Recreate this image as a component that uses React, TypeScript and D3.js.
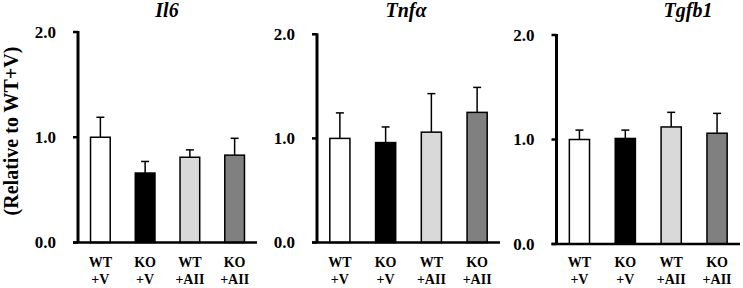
import React from "react";
import * as d3 from "d3";

const groupTop = ["WT", "KO", "WT", "KO"];
const groupBottom = ["+V", "+V", "+AII", "+AII"];
const barColors = ["#ffffff", "#000000", "#d9d9d9", "#808080"];

const genes = ["Il6", "Tnfα", "Tgfb1"];
const il6Means = [1.0, 0.66, 0.81, 0.83];
const il6Errors = [0.19, 0.11, 0.07, 0.16];
const tnfaMeans = [1.0, 0.96, 1.06, 1.25];
const tnfaErrors = [0.245, 0.15, 0.37, 0.24];
const tgfb1Means = [1.0, 1.01, 1.12, 1.06];
const tgfb1Errors = [0.09, 0.08, 0.14, 0.19];
const yTicks = [0, 1, 2];
const yLabel = "(Relative to WT+V)";

const seriesMeans = [il6Means, tnfaMeans, tgfb1Means];
const seriesErrors = [il6Errors, tnfaErrors, tgfb1Errors];

// layout only
const panels = [
  { x0: 78, x1: 257, yTop: 32, yBot: 242.5, titleX: 167 },
  { x0: 317, x1: 500, yTop: 34.3, yBot: 242.5, titleX: 406 },
  { x0: 556.5, x1: 740, yTop: 35, yBot: 244, titleX: 688 },
];

const FONT = "Liberation Serif, Times New Roman, serif";

export default function App() {
  return (
    <svg
      width={743}
      height={288}
      style={{ position: "absolute", left: 0, top: 0, background: "#fff", fontFamily: FONT }}
    >
      <rect width={743} height={288} fill="#fff" />
      <text
        transform={`translate(18,131) rotate(-90)`}
        textAnchor="middle"
        fontSize={20}
        fontWeight="bold"
        fill="#000"
        style={{ fontFamily: FONT }}
      >
        {yLabel}
      </text>
      {panels.map((p, pi) => {
        const x = d3
          .scaleBand<number>()
          .domain(d3.range(groupTop.length))
          .range([p.x0, p.x1])
          .paddingInner(0.56)
          .paddingOuter(0.28);
        const y = d3.scaleLinear().domain([0, 2]).range([p.yBot, p.yTop]);
        const means = seriesMeans[pi];
        const errs = seriesErrors[pi];
        const bw = x.bandwidth();
        return (
          <g key={pi} style={{ fontFamily: FONT }}>
            <text
              x={p.titleX}
              y={17}
              textAnchor="middle"
              fontSize={20}
              fontWeight="bold"
              fontStyle="italic"
              fill="#000"
            >
              {genes[pi]}
            </text>
            {means.map((m, i) => {
              const cx = (x(i) as number) + bw / 2;
              const top = y(m + errs[i]);
              return (
                <g key={i}>
                  <line x1={cx} x2={cx} y1={y(m)} y2={top} stroke="#000" strokeWidth={1.5} />
                  <line x1={cx - 4} x2={cx + 4} y1={top} y2={top} stroke="#000" strokeWidth={1.5} />
                  <rect
                    x={x(i)}
                    y={y(m)}
                    width={bw}
                    height={p.yBot - y(m)}
                    fill={barColors[i]}
                    stroke="#000"
                    strokeWidth={1.5}
                  />
                  <text
                    x={cx}
                    y={267}
                    textAnchor="middle"
                    fontSize={14}
                    fontWeight="bold"
                    fill="#000"
                  >
                    {groupTop[i]}
                  </text>
                  <text
                    x={cx}
                    y={284}
                    textAnchor="middle"
                    fontSize={14}
                    fontWeight="bold"
                    fill="#000"
                  >
                    {groupBottom[i]}
                  </text>
                </g>
              );
            })}
            {yTicks.map((t) => (
              <g key={t}>
                <line x1={p.x0 - 5} x2={p.x0} y1={y(t)} y2={y(t)} stroke="#000" strokeWidth={2.5} />
                <text
                  x={p.x0 - 22}
                  y={y(t)}
                  dy="0.35em"
                  textAnchor="end"
                  fontSize={17}
                  fontWeight="bold"
                  fill="#000"
                >
                  {d3.format(".1f")(t)}
                </text>
              </g>
            ))}
            <line x1={p.x0} x2={p.x0} y1={y(2) - 1} y2={p.yBot} stroke="#000" strokeWidth={3} />
            <line x1={p.x0 - 5} x2={p.x1} y1={p.yBot} y2={p.yBot} stroke="#000" strokeWidth={2.5} />
          </g>
        );
      })}
    </svg>
  );
}
